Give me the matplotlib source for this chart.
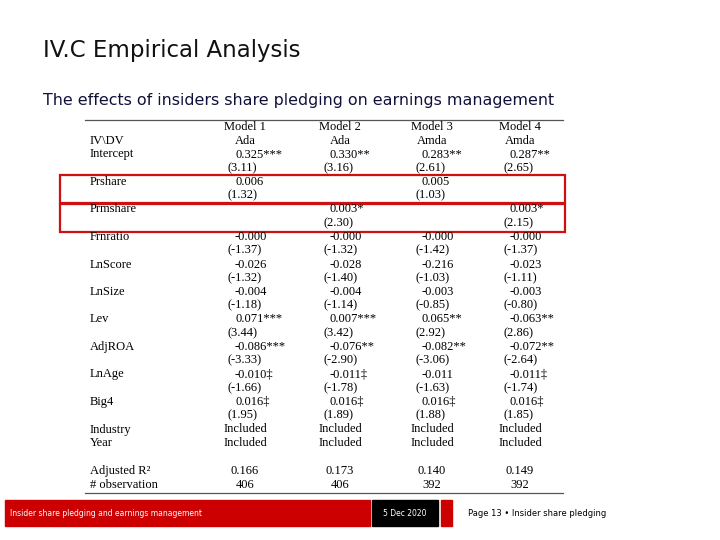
import matplotlib
matplotlib.use("Agg")
import matplotlib.pyplot as plt
from matplotlib.patches import Rectangle

title = "IV.C Empirical Analysis"
subtitle = "The effects of insiders share pledging on earnings management"
models = ["Model 1", "Model 2", "Model 3", "Model 4"]
dvs = ["Ada", "Ada", "Amda", "Amda"]
variables = ["Intercept", "Prshare", "Prmshare", "Frnratio", "LnScore", "LnSize",
             "Lev", "AdjROA", "LnAge", "Big4"]
coefs = [
    ["0.325***", "0.330**", "0.283**", "0.287**"],
    ["0.006", "", "0.005", ""],
    ["", "0.003*", "", "0.003*"],
    ["-0.000", "-0.000", "-0.000", "-0.000"],
    ["-0.026", "-0.028", "-0.216", "-0.023"],
    ["-0.004", "-0.004", "-0.003", "-0.003"],
    ["0.071***", "0.007***", "0.065**", "-0.063**"],
    ["-0.086***", "-0.076**", "-0.082**", "-0.072**"],
    ["-0.010‡", "-0.011‡", "-0.011", "-0.011‡"],
    ["0.016‡", "0.016‡", "0.016‡", "0.016‡"],
]
tstats = [
    ["(3.11)", "(3.16)", "(2.61)", "(2.65)"],
    ["(1.32)", "", "(1.03)", ""],
    ["", "(2.30)", "", "(2.15)"],
    ["(-1.37)", "(-1.32)", "(-1.42)", "(-1.37)"],
    ["(-1.32)", "(-1.40)", "(-1.03)", "(-1.11)"],
    ["(-1.18)", "(-1.14)", "(-0.85)", "(-0.80)"],
    ["(3.44)", "(3.42)", "(2.92)", "(2.86)"],
    ["(-3.33)", "(-2.90)", "(-3.06)", "(-2.64)"],
    ["(-1.66)", "(-1.78)", "(-1.63)", "(-1.74)"],
    ["(1.95)", "(1.89)", "(1.88)", "(1.85)"],
]
fixed = [("Industry", ["Included"] * 4), ("Year", ["Included"] * 4)]
adj_r2 = ["0.166", "0.173", "0.140", "0.149"]
n_obs = ["406", "406", "392", "392"]
footer_left = "Insider share pledging and earnings management"
footer_date = "5 Dec 2020"
footer_right = "Page 13 • Insider share pledging"

fig = plt.figure(figsize=(7.2, 5.4), dpi=100)
ax = fig.add_axes([0, 0, 1, 1])
ax.set_xlim(0, 720); ax.set_ylim(540, 0); ax.axis("off")

ax.text(43, 50, title, fontsize=16.5, color="#111111", va="center", family="DejaVu Sans")
ax.text(43, 100, subtitle, fontsize=11.4, color="#10103a", va="center", family="DejaVu Sans")

serif = "Liberation Serif"
fs = 9
colx = [245, 340, 432, 520]
labx = 90
ax.plot([85, 563], [120, 120], color="#555555", lw=0.9)
ax.plot([85, 563], [493, 493], color="#555555", lw=0.9)

step = 13.75
y = 127
for i, m in enumerate(models):
    ax.text(colx[i], y, m, fontsize=fs, family=serif, ha="center", va="center")
y += step
ax.text(labx, y, "IV\\DV", fontsize=fs, family=serif, va="center")
for i, d in enumerate(dvs):
    ax.text(colx[i], y, d, fontsize=fs, family=serif, ha="center", va="center")
for v, cr, tr in zip(variables, coefs, tstats):
    y += step
    ax.text(labx, y, v, fontsize=fs, family=serif, va="center")
    for i, c in enumerate(cr):
        ax.text(colx[i] - 10, y, c, fontsize=fs, family=[serif, "DejaVu Serif"], ha="left", va="center")
    y += step
    for i, t in enumerate(tr):
        ax.text(colx[i] - 17, y, t, fontsize=fs, family=serif, ha="left", va="center")
for name, vals in fixed:
    y += step
    ax.text(labx, y, name, fontsize=fs, family=serif, va="center")
    for i, t in enumerate(vals):
        ax.text(colx[i], y, t, fontsize=fs, family=serif, ha="center", va="center")
y += step * 2
ax.text(labx, y, "Adjusted R²", fontsize=fs, family=serif, va="center")
for i, t in enumerate(adj_r2):
    ax.text(colx[i], y, t, fontsize=fs, family=serif, ha="center", va="center")
y += step
ax.text(labx, y, "# observation", fontsize=fs, family=serif, va="center")
for i, t in enumerate(n_obs):
    ax.text(colx[i], y, t, fontsize=fs, family=serif, ha="center", va="center")

for (y0, h) in [(175, 28), (204, 28)]:
    ax.add_patch(Rectangle((60, y0), 505, h, fill=False, edgecolor="#d01010", lw=1.6))

ax.add_patch(Rectangle((5, 500), 365, 26, color="#cc0000"))
ax.add_patch(Rectangle((372, 500), 66, 26, color="#000000"))
ax.add_patch(Rectangle((441, 500), 11, 26, color="#cc0000"))
ax.text(10, 513, footer_left, fontsize=5.5, color="white", va="center")
ax.text(405, 513, footer_date, fontsize=5.5, color="white", va="center", ha="center")
ax.text(468, 513, footer_right, fontsize=6, color="black", va="center")

fig.savefig("out.png", dpi=100)
